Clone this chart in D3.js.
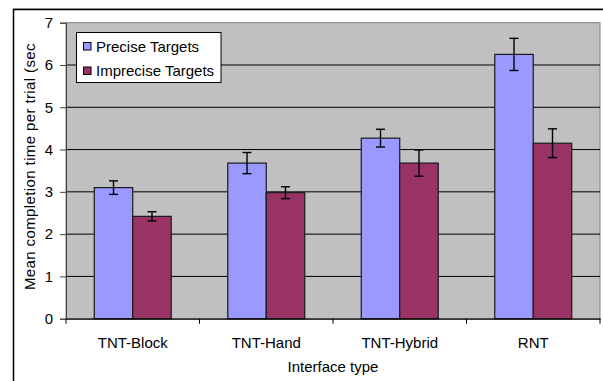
<!DOCTYPE html>
<html><head><meta charset="utf-8">
<script src="https://cdn.jsdelivr.net/npm/d3@7"></script>
<style>html,body{margin:0;padding:0;background:#fff;}svg{display:block;font-family:"Liberation Sans",Arial,sans-serif;}</style>
</head><body>
<svg id="c" width="603" height="381"></svg>
<script>
const categories = ["TNT-Block", "TNT-Hand", "TNT-Hybrid", "RNT"];
const seriesNames = ["Precise Targets", "Imprecise Targets"];
const preciseValues = [3.10, 3.68, 4.27, 6.25];
const impreciseValues = [2.42, 2.98, 3.68, 4.15];
const preciseErrors = [0.16, 0.25, 0.21, 0.38];
const impreciseErrors = [0.11, 0.14, 0.31, 0.34];
const yTicks = [0, 1, 2, 3, 4, 5, 6, 7];
const colors = ["#9999FF", "#993366"];

const svg = d3.select("#c");
const L = 66, R = 600, T = 22.7, B = 318.7;

// outer frame
svg.append("line").attr("x1",13).attr("x2",603).attr("y1",8.5).attr("y2",8.5).attr("stroke","#bbb").attr("stroke-width",1);
svg.append("path").attr("d","M13.5,381 V9.5 H603").attr("fill","none").attr("stroke","#000").attr("stroke-width",1.5);

const y = d3.scaleLinear().domain([0,7]).range([B,T]);
const x0 = d3.scaleBand().domain(categories).range([L,R]).paddingInner(0).paddingOuter(0);
const x1 = d3.scaleBand().domain(seriesNames).range([0,x0.bandwidth()]).paddingInner(0).paddingOuter(0.734);

// plot area
svg.append("rect").attr("x",L).attr("y",T).attr("width",R-L).attr("height",B-T).attr("fill","#C0C0C0").attr("stroke","#808080").attr("stroke-width",1);

// gridlines
svg.append("g").selectAll("line").data(yTicks.filter(d=>d>0 && d<7)).join("line")
  .attr("x1",L).attr("x2",R).attr("y1",d=>y(d)).attr("y2",d=>y(d)).attr("stroke","#000").attr("stroke-width",1);

// y axis
const yAxis = d3.axisLeft(y).tickValues(yTicks).tickSize(6).tickPadding(7).tickFormat(d3.format("d"));
const ga = svg.append("g").attr("transform",`translate(${L},0)`).call(yAxis);
ga.select(".domain").attr("stroke","#404040");
ga.selectAll(".tick line").attr("stroke","#404040");
ga.selectAll("text").attr("font-size",15).attr("fill","#000").attr("font-family","Liberation Sans, Arial, sans-serif");

// bars
const rows = categories.map((c,i)=>({c, vals:[
  {s:seriesNames[0], v:preciseValues[i], e:preciseErrors[i], k:0},
  {s:seriesNames[1], v:impreciseValues[i], e:impreciseErrors[i], k:1}]}));
const g = svg.append("g").selectAll("g").data(rows).join("g").attr("transform",d=>`translate(${x0(d.c)},0)`);
g.selectAll("rect").data(d=>d.vals).join("rect")
  .attr("x",d=>x1(d.s)).attr("width",x1.bandwidth())
  .attr("y",d=>y(d.v)).attr("height",d=>y(0)-y(d.v))
  .attr("fill",d=>colors[d.k]).attr("stroke","#1a1a1a").attr("stroke-width",1.2);
// error bars
const eg = g.selectAll("g.err").data(d=>d.vals).join("g").attr("class","err");
eg.append("line").attr("x1",d=>x1(d.s)+x1.bandwidth()/2).attr("x2",d=>x1(d.s)+x1.bandwidth()/2)
  .attr("y1",d=>y(d.v+d.e)).attr("y2",d=>y(d.v-d.e)).attr("stroke","#000").attr("stroke-width",1.4);
eg.append("line").attr("x1",d=>x1(d.s)+x1.bandwidth()/2-4.5).attr("x2",d=>x1(d.s)+x1.bandwidth()/2+4.5)
  .attr("y1",d=>y(d.v+d.e)).attr("y2",d=>y(d.v+d.e)).attr("stroke","#000").attr("stroke-width",1.4);
eg.append("line").attr("x1",d=>x1(d.s)+x1.bandwidth()/2-4.5).attr("x2",d=>x1(d.s)+x1.bandwidth()/2+4.5)
  .attr("y1",d=>y(d.v-d.e)).attr("y2",d=>y(d.v-d.e)).attr("stroke","#000").attr("stroke-width",1.4);

// x axis
const xAxis = d3.axisBottom(x0).tickSize(0).tickPadding(19);
const gx = svg.append("g").attr("transform",`translate(0,${B})`).call(xAxis);
gx.select(".domain").attr("stroke","#000").attr("stroke-width",1.2);
gx.selectAll("text").attr("font-size",15).attr("fill","#000").attr("font-family","Liberation Sans, Arial, sans-serif");
const bounds = categories.map(c=>x0(c)).concat([x0.range()[1]]);
svg.append("g").selectAll("line").data(bounds).join("line")
  .attr("x1",d=>d).attr("x2",d=>d).attr("y1",B).attr("y2",B+5).attr("stroke","#000");

// axis titles
svg.append("text").attr("x",(L+R)/2).attr("y",372).attr("text-anchor","middle").attr("font-size",15).text("Interface type");
svg.append("clipPath").attr("id","yc").append("rect").attr("x",0).attr("y",43).attr("width",60).attr("height",300);
svg.append("g").attr("clip-path","url(#yc)").append("text")
  .attr("transform","translate(35,290) rotate(-90)").attr("text-anchor","start")
  .attr("font-size",15).attr("textLength",252).attr("lengthAdjust","spacing")
  .text("Mean completion time per trial (sec)");

// legend
const lg = svg.append("g");
lg.append("rect").attr("x",76.5).attr("y",32.5).attr("width",144.5).attr("height",50).attr("fill","#fff").attr("stroke","#000");
const li = lg.selectAll("g").data(seriesNames).join("g").attr("transform",(d,i)=>`translate(0,${i*24.5})`);
li.append("rect").attr("x",83.5).attr("y",42.5).attr("width",7.5).attr("height",7.5).attr("fill",(d,i)=>colors[i]).attr("stroke","#000");
li.append("text").attr("x",96).attr("y",51.7).attr("font-size",15).text(d=>d);
</script>
</body></html>
